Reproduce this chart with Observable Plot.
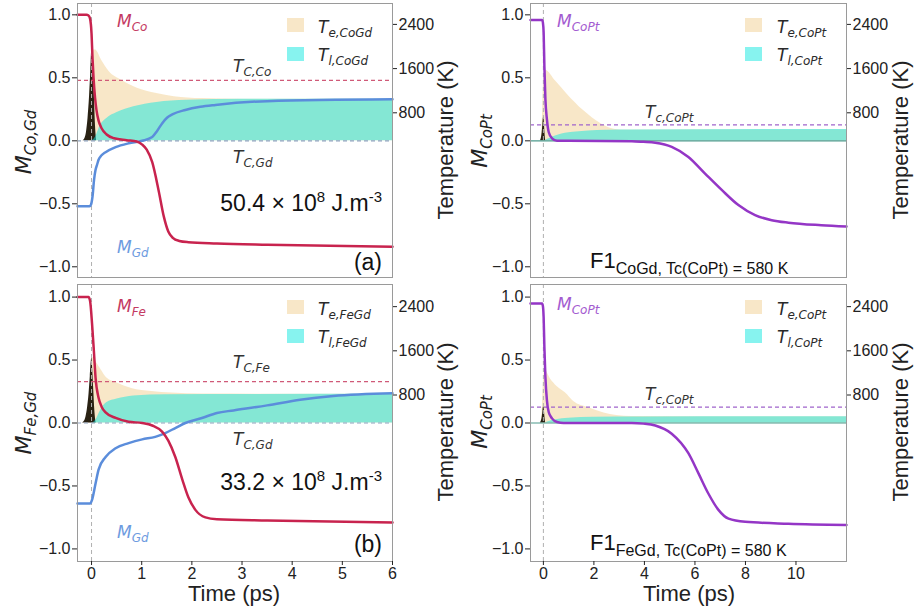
<!DOCTYPE html>
<html><head><meta charset="utf-8">
<script src="https://cdn.jsdelivr.net/npm/d3@7"></script>
<script src="https://cdn.jsdelivr.net/npm/@observablehq/plot@0.6"></script>
<style>
body{margin:0;background:#fff;}
#fig{position:relative;width:915px;height:612px;overflow:hidden;background:#fff;}
#fig svg{position:absolute;overflow:visible;}
</style></head><body><div id="fig"></div>
<script>
// ---------------- DATA (time in ps, M normalised, temperatures in K) ----------------
// Curie temperatures (K)
const TC_Co = 1388, TC_Gd = 293, TC_Fe = 1043, TC_CoPt = 580;
// right-axis tick labels (K)
const tempTicks = [800, 1600, 2400];
const magTicks = [-1, -0.5, 0, 0.5, 1];
const xTicksLeft = [0, 1, 2, 3, 4, 5, 6];
const xTicksRight = [0, 2, 4, 6, 8, 10];

// (a) CoGd, 50.4e8 J/m3
const tA_Co = [-0.28, -0.1, -0.06, -0.03, 0.0, 0.02, 0.04, 0.07, 0.1, 0.14, 0.2, 0.3, 0.45, 0.7, 0.9, 1.01, 1.1, 1.21, 1.34, 1.44, 1.53, 1.62, 1.75, 1.93, 2.5, 3.5, 6];
const mA_Co = [1.0, 1.0, 0.995, 0.97, 0.85, 0.65, 0.5, 0.34, 0.24, 0.16, 0.1, 0.05, 0.02, 0.005, -0.005, -0.03, -0.07, -0.17, -0.4, -0.6, -0.72, -0.77, -0.795, -0.805, -0.815, -0.825, -0.84];
const tA_Gd = [-0.28, -0.04, -0.01, 0.02, 0.05, 0.08, 0.11, 0.14, 0.2, 0.28, 0.48, 0.74, 1.01, 1.21, 1.31, 1.41, 1.51, 1.61, 1.87, 2.17, 2.47, 3.5, 6];
const mA_Gd = [-0.52, -0.52, -0.505, -0.44, -0.31, -0.23, -0.19, -0.15, -0.115, -0.09, -0.05, -0.02, 0.0, 0.03, 0.08, 0.14, 0.185, 0.21, 0.245, 0.27, 0.285, 0.315, 0.33];
const tA_Te = [-0.28, -0.12, -0.07, -0.03, 0.0, 0.03, 0.08, 0.2, 0.35, 0.6, 0.9, 1.3, 1.65, 2.2, 3.0, 6];
const kA_Te = [293, 293, 420, 1090, 1700, 1930, 1935, 1752, 1547, 1387, 1251, 1148, 1091, 1057, 1045, 1045];
const tA_Tl = [-0.28, 0.0, 0.08, 0.18, 0.31, 0.51, 0.84, 1.3, 1.9, 3.0, 6];
const kA_Tl = [293, 293, 360, 578, 703, 806, 909, 988, 1027, 1045, 1045];
const tA_P = [-0.17, -0.13, -0.1, -0.07, -0.04, -0.015, 0.005, 0.015, 0.035, 0.055, 0.075, 0.1];
const vA_P = [0, 0.02, 0.07, 0.18, 0.35, 0.55, 0.74, 0.78, 0.62, 0.38, 0.15, 0];

// (b) FeGd, 33.2e8 J/m3
const tB_Fe = [-0.28, -0.06, -0.03, 0.01, 0.05, 0.08, 0.14, 0.2, 0.28, 0.48, 0.74, 1.01, 1.21, 1.41, 1.53, 1.67, 1.81, 1.93, 2.07, 2.27, 2.5, 3.5, 6];
const mB_Fe = [1.0, 1.0, 0.97, 0.79, 0.55, 0.36, 0.2, 0.13, 0.085, 0.04, 0.01, 0.0, -0.02, -0.07, -0.14, -0.27, -0.45, -0.59, -0.69, -0.75, -0.765, -0.775, -0.79];
const tB_Gd = [-0.28, -0.03, 0.01, 0.08, 0.14, 0.28, 0.48, 0.74, 1.01, 1.27, 1.47, 1.67, 1.87, 2.2, 2.5, 2.83, 3.5, 4.16, 4.82, 6];
const mB_Gd = [-0.64, -0.64, -0.61, -0.48, -0.37, -0.27, -0.2, -0.16, -0.13, -0.11, -0.08, -0.04, 0.0, 0.04, 0.08, 0.1, 0.14, 0.185, 0.215, 0.237];
const tB_Te = [-0.28, -0.12, -0.07, -0.03, 0.0, 0.03, 0.08, 0.18, 0.3, 0.5, 0.8, 1.2, 1.6, 2.2, 6];
const kB_Te = [293, 293, 407, 863, 1319, 1479, 1410, 1273, 1114, 1023, 920, 863, 836, 817, 813];
const tB_Tl = [-0.28, 0.0, 0.08, 0.18, 0.3, 0.51, 0.84, 1.5, 6];
const kB_Tl = [293, 293, 339, 521, 658, 726, 783, 806, 813];
const tB_P = [-0.18, -0.14, -0.11, -0.08, -0.05, -0.025, -0.005, 0.005, 0.025, 0.045, 0.065, 0.09];
const vB_P = [0, 0.015, 0.05, 0.12, 0.23, 0.37, 0.49, 0.52, 0.41, 0.25, 0.1, 0];

// (c) CoPt coupled to CoGd
const tC_M = [-0.51, -0.05, -0.02, 0.01, 0.04, 0.08, 0.14, 0.21, 0.34, 0.54, 1.0, 3.5, 3.96, 4.43, 5.08, 5.74, 6.4, 7.06, 7.72, 8.38, 9.04, 9.7, 11.0, 12.0];
const mC_M = [0.96, 0.96, 0.94, 0.86, 0.59, 0.33, 0.17, 0.07, 0.02, 0.0, 0.0, -0.003, -0.008, -0.015, -0.048, -0.128, -0.26, -0.39, -0.51, -0.59, -0.63, -0.65, -0.67, -0.68];
const tC_Te = [-0.51, -0.1, -0.05, -0.02, 0.02, 0.08, 0.5, 0.94, 1.59, 2.25, 2.65, 3.04, 4.0, 12.0];
const kC_Te = [293, 293, 521, 977, 1433, 1570, 1365, 1137, 840, 612, 521, 491, 489, 494];
const tC_Tl = [-0.51, 0.05, 0.15, 0.3, 0.6, 0.87, 1.3, 1.79, 2.5, 3.5, 12.0];
const kC_Tl = [293, 293, 316, 350, 396, 430, 453, 471, 482, 489, 498];
const tC_P = [-0.12, -0.08, -0.05, -0.02, 0.0, 0.02, 0.04, 0.06, 0.09];
const vC_P = [0, 0.02, 0.06, 0.13, 0.18, 0.19, 0.14, 0.07, 0];

// (d) CoPt coupled to FeGd
const tD_M = [-0.51, -0.05, -0.02, 0.01, 0.04, 0.08, 0.14, 0.21, 0.34, 0.54, 0.8, 3.5, 3.96, 4.43, 5.08, 5.74, 6.14, 6.53, 6.93, 7.33, 7.99, 9.7, 12.0];
const mD_M = [0.95, 0.95, 0.93, 0.84, 0.6, 0.365, 0.18, 0.087, 0.037, 0.008, 0.0, 0.0, -0.005, -0.02, -0.085, -0.24, -0.4, -0.56, -0.69, -0.76, -0.785, -0.8, -0.81];
const tD_Te = [-0.51, -0.1, -0.05, -0.02, 0.02, 0.06, 0.28, 0.54, 0.87, 1.2, 1.79, 2.4, 2.9, 3.5, 12.0];
const kD_Te = [293, 293, 475, 795, 1159, 1251, 1091, 954, 840, 681, 567, 475, 430, 412, 407];
const tD_Tl = [-0.51, 0.05, 0.2, 0.5, 1.0, 2.0, 4.0, 12.0];
const kD_Tl = [293, 293, 316, 350, 380, 396, 402, 407];
const tD_P = [-0.12, -0.08, -0.05, -0.02, 0.0, 0.02, 0.04, 0.06, 0.09];
const vD_P = [0, 0.015, 0.04, 0.09, 0.125, 0.13, 0.1, 0.05, 0];

// ---------------- helpers ----------------
const T0 = 293, KPERM = 2280;            // temperature axis aligned so that 293 K sits on M = 0
const toM = T => (T - T0) / KPERM;
const zip = (ts, vs) => ts.map((t, i) => ({t, v: vs[i]}));
const FONT = "Liberation Sans, Arial, sans-serif";
const IFONT = "DejaVu Sans, sans-serif";
const C = {
  red: "#c8234e", redL: "#c43a62",
  blue: "#5b8ddb", blueL: "#6d9be0",
  purple: "#9436c6", purpleL: "#a35bd0",
  te: "#f5deb3", tl: "#10e8e0", pulse: "#1e1608",
  tcRed: "#d05a78", tcGd: "#8da2bd", tcPurple: "#a064cc"
};

function rich(svg, x, y, parts, {anchor = "start", rotate = 0, fill = "#2a2a2a", family = FONT} = {}) {
  const t = d3.select(svg).append("text")
    .attr("x", x).attr("y", y).attr("text-anchor", anchor).attr("fill", fill)
    .style("font-family", family);
  if (rotate) t.attr("transform", `rotate(${rotate},${x},${y})`);
  let cur = 0;
  for (const [s, o] of parts) {
    const shift = o.shift || 0;
    const ts = t.append("tspan").attr("dy", shift - cur).attr("font-size", o.size).text(s);
    if (o.italic) ts.attr("font-style", "italic");
    if (o.fill) ts.attr("fill", o.fill);
    cur = shift;
  }
  return t;
}
function sym(svg, x, y, main, sub, fill, size = 17, subSize = 12) {
  return rich(svg, x, y, [[main, {size, italic: true}], [sub, {size: subSize, italic: true, shift: 4}]], {fill, family: IFONT});
}

function makePanel(o) {
  const tempM = tempTicks.map(toM);
  const marks = [
    Plot.areaY(zip(o.teT, o.teK), {x: "t", y1: 0, y2: d => toM(d.v), fill: C.te, fillOpacity: 0.72, curve: "monotone-x"}),
    Plot.areaY(zip(o.pT, o.pV), {x: "t", y1: 0, y2: "v", fill: C.pulse, fillOpacity: 0.95, curve: "monotone-x"}),
    Plot.areaY(zip(o.tlT, o.tlK), {x: "t", y1: 0, y2: d => toM(d.v), fill: C.tl, fillOpacity: 0.5, curve: "monotone-x"}),
    Plot.ruleX([0], {stroke: "#b0b0b0", strokeDasharray: "4,3", strokeWidth: 1}),
  ];
  for (const r of o.rules) marks.push(Plot.ruleY([toM(r.T)], {stroke: r.color, strokeDasharray: r.dash ? "4,3" : null, strokeWidth: r.w || 1.2}));
  for (const l of o.lines) marks.push(Plot.lineY(zip(l.t, l.m), {x: "t", y: "v", stroke: l.color, strokeWidth: 2.5, curve: "monotone-x"}));
  marks.push(
    Plot.frame({stroke: "#9a9a9a", strokeWidth: 1}),
    Plot.axisY(magTicks, {anchor: "left", tickSize: 5, tickPadding: 2, tickFormat: d3.format(".1f"), label: null, fontSize: 16}),
    Plot.axisY(tempM, {anchor: "right", tickSize: 4, tickPadding: 2, label: null, fontSize: 16,
      tickFormat: d => String(tempTicks[tempM.findIndex(v => Math.abs(v - d) < 1e-9)])})
  );
  if (o.xTicks) marks.push(Plot.axisX(o.xTicks, {tickSize: 4, tickPadding: 2, label: null, fontSize: 16}));
  const svg = Plot.plot({
    width: 460, height: o.height,
    marginLeft: o.ml, marginRight: o.mr, marginTop: o.mt, marginBottom: o.mb,
    x: {domain: o.xDomain, axis: null},
    y: {domain: o.yDomain, axis: null},
    style: {fontFamily: FONT, fontSize: "16px", color: "#222", background: "transparent", overflow: "visible"},
    marks
  });
  svg.style.left = o.left + "px";
  svg.style.top = o.top + "px";
  document.getElementById("fig").appendChild(svg);
  return svg;
}

// ---------------- panels ----------------
const yTop = [-1.085, 1.09], yBot = [-1.1, 1.1];

const svgA = makePanel({
  left: 0, top: 0, height: 280, ml: 77, mr: 68, mt: 3, mb: 3, xDomain: [-0.28, 6], yDomain: yTop,
  teT: tA_Te, teK: kA_Te, tlT: tA_Tl, tlK: kA_Tl, pT: tA_P, pV: vA_P,
  rules: [{T: TC_Co, color: C.tcRed, dash: true}, {T: TC_Gd, color: C.tcGd, dash: true}],
  lines: [{t: tA_Gd, m: mA_Gd, color: C.blue}, {t: tA_Co, m: mA_Co, color: C.red}]
});
const svgB = makePanel({
  left: 0, top: 280, height: 332, ml: 77, mr: 68, mt: 4, mb: 51, xDomain: [-0.28, 6], yDomain: yBot, xTicks: xTicksLeft,
  teT: tB_Te, teK: kB_Te, tlT: tB_Tl, tlK: kB_Tl, pT: tB_P, pV: vB_P,
  rules: [{T: TC_Fe, color: C.tcRed, dash: true}, {T: TC_Gd, color: C.tcGd, dash: true}],
  lines: [{t: tB_Gd, m: mB_Gd, color: C.blue}, {t: tB_Fe, m: mB_Fe, color: C.red}]
});
const svgC = makePanel({
  left: 455, top: 0, height: 280, ml: 75, mr: 69, mt: 3, mb: 3, xDomain: [-0.51, 12], yDomain: yTop,
  teT: tC_Te, teK: kC_Te, tlT: tC_Tl, tlK: kC_Tl, pT: tC_P, pV: vC_P,
  rules: [{T: T0, color: "#4c9a8c", dash: false, w: 1.2}, {T: TC_CoPt, color: C.tcPurple, dash: true}],
  lines: [{t: tC_M, m: mC_M, color: C.purple}]
});
const svgD = makePanel({
  left: 455, top: 280, height: 332, ml: 75, mr: 69, mt: 4, mb: 51, xDomain: [-0.51, 12], yDomain: yBot, xTicks: xTicksRight,
  teT: tD_Te, teK: kD_Te, tlT: tD_Tl, tlK: kD_Tl, pT: tD_P, pV: vD_P,
  rules: [{T: T0, color: "#4c9a8c", dash: false, w: 1.2}, {T: TC_CoPt, color: C.tcPurple, dash: true}],
  lines: [{t: tD_M, m: mD_M, color: C.purple}]
});

// ---------------- text: axis titles, legends, annotations ----------------
function legend(svg, x, y, sub1, sub2, tx) {
  const g = d3.select(svg);
  g.append("rect").attr("x", x).attr("y", y).attr("width", 17).attr("height", 14).attr("fill", C.te).attr("fill-opacity", 0.72);
  g.append("rect").attr("x", x).attr("y", y + 29).attr("width", 17).attr("height", 14).attr("fill", C.tl).attr("fill-opacity", 0.5);
  sym(svg, tx, y + 15, "T", sub1, "#2a2a2a");
  sym(svg, tx, y + 43, "T", sub2, "#2a2a2a");
}
function tempTitle(svg, y) {
  rich(svg, 453, y, [["Temperature (K)", {size: 22}]], {anchor: "middle", rotate: -90, fill: "#222"});
}
function yTitle(svg, x, y, sub) {
  rich(svg, x, y, [["M", {size: 22, italic: true}], [sub, {size: 15, italic: true, shift: 5}]],
    {anchor: "middle", rotate: -90, fill: "#222", family: IFONT});
}
function energy(svg, y, val) {
  rich(svg, 382, y, [[val + " × 10", {size: 23}], ["8", {size: 15, shift: -9}], [" J.m", {size: 23}], ["-3", {size: 15, shift: -9}]],
    {anchor: "end", fill: "#111"});
}
function f1(svg, y, sub) {
  rich(svg, 135, y, [["F1", {size: 22}], [sub, {size: 16, shift: 6}]], {fill: "#111"});
}

// (a)
yTitle(svgA, 31, 142, "Co,Gd");
tempTitle(svgA, 140);
sym(svgA, 117, 27, "M", "Co", C.redL);
sym(svgA, 117, 253, "M", "Gd", C.blueL);
sym(svgA, 233, 72, "T", "C,Co", "#333");
sym(svgA, 233, 163, "T", "C,Gd", "#333");
legend(svgA, 287, 18, "e,CoGd", "l,CoGd", 318);
energy(svgA, 211, "50.4");
rich(svgA, 382, 270, [["(a)", {size: 23}]], {anchor: "end", fill: "#111"});

// (b)
yTitle(svgB, 31, 143, "Fe,Gd");
tempTitle(svgB, 142);
sym(svgB, 117, 32, "M", "Fe", C.redL);
sym(svgB, 117, 258, "M", "Gd", C.blueL);
sym(svgB, 233, 88, "T", "C,Fe", "#333");
sym(svgB, 233, 165, "T", "C,Gd", "#333");
legend(svgB, 287, 20, "e,FeGd", "l,FeGd", 318);
energy(svgB, 210, "33.2");
rich(svgB, 382, 272, [["(b)", {size: 23}]], {anchor: "end", fill: "#111"});
rich(svgB, 234, 321, [["Time (ps)", {size: 22}]], {anchor: "middle", fill: "#222"});

// (c)
yTitle(svgC, 32, 141, "CoPt");
tempTitle(svgC, 140);
sym(svgC, 102, 27, "M", "CoPt", C.purpleL);
sym(svgC, 190, 118, "T", "c,CoPt", "#333");
legend(svgC, 290, 18, "e,CoPt", "l,CoPt", 322);
f1(svgC, 268, "CoGd, Tc(CoPt) = 580 K");

// (d)
yTitle(svgD, 32, 142, "CoPt");
tempTitle(svgD, 142);
sym(svgD, 102, 30, "M", "CoPt", C.purpleL);
sym(svgD, 190, 120, "T", "c,CoPt", "#333");
legend(svgD, 290, 20, "e,CoPt", "l,CoPt", 322);
f1(svgD, 270, "FeGd, Tc(CoPt) = 580 K");
rich(svgD, 234, 321, [["Time (ps)", {size: 22}]], {anchor: "middle", fill: "#222"});
</script></body></html>
